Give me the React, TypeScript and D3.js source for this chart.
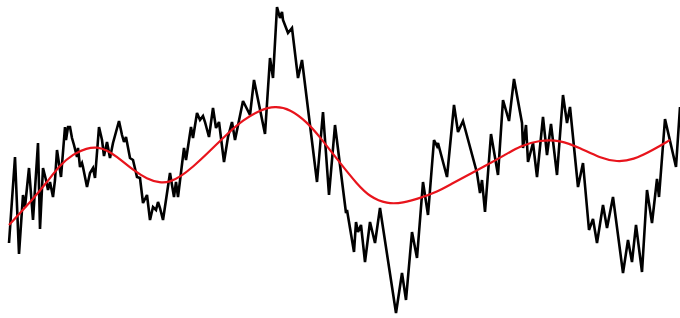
import React from "react";
import * as d3 from "d3";

const WIDTH = 680;
const HEIGHT = 318;

// noisy series: time and level
const noisyTime = [
  9, 15, 19, 23, 25, 29, 33, 38, 40, 43,
  46, 48, 50, 53, 55, 57, 61, 65, 66, 68,
  70, 72, 74, 77, 78, 80, 82, 83, 87, 90,
  93, 95, 99, 102, 104, 107, 110, 113, 119, 122,
  124, 126, 130, 133, 137, 140, 143, 147, 150, 153,
  156, 158, 160, 163, 170, 174, 176, 178, 184, 186,
  191, 193, 197, 200, 203, 205, 209, 213, 216, 219,
  224, 228, 232, 235, 243, 250, 254, 265, 270, 273,
  277, 280, 282, 283, 288, 292, 298, 302, 317, 323,
  329, 335, 346, 347, 349, 354, 356, 358, 361, 365,
  370, 375, 380, 396, 402, 406, 412, 417, 423, 428,
  434, 437, 438, 447, 454, 458, 463, 477, 480, 482,
  485, 491, 498, 503, 509, 514, 522, 523, 526, 528,
  533, 537, 543, 547, 551, 557, 563, 567, 570, 578,
  583, 589, 593, 597, 603, 607, 613, 623, 628, 632,
  636, 642, 647, 652, 657, 659, 665, 676, 680,
];
const noisyLevel = [
  77, 163, 66, 125, 113, 152, 100, 177, 91, 152,
  140, 130, 138, 123, 140, 170, 143, 193, 180, 193,
  193, 182, 175, 163, 172, 153, 157, 153, 133, 147,
  152, 142, 193, 180, 164, 178, 162, 177, 199, 185,
  178, 183, 162, 160, 143, 142, 117, 125, 100, 113,
  110, 118, 112, 100, 147, 123, 138, 123, 172, 160,
  193, 182, 207, 200, 204, 198, 183, 212, 192, 198,
  158, 183, 198, 180, 219, 205, 240, 186, 262, 242,
  313, 302, 308, 300, 287, 292, 242, 260, 138, 208,
  125, 195, 107, 110, 98, 68, 98, 88, 95, 58,
  98, 77, 112, 7, 47, 20, 88, 62, 138, 105,
  180, 174, 177, 143, 215, 188, 199, 147, 127, 140,
  108, 186, 145, 220, 199, 241, 197, 172, 195, 158,
  177, 143, 203, 165, 196, 145, 225, 197, 213, 133,
  157, 90, 101, 77, 115, 92, 123, 47, 80, 58,
  95, 48, 130, 97, 141, 123, 201, 153, 213,
];

// smooth trend series
const trendTime = [
  9, 20, 33, 47, 60, 73, 87, 97, 107, 120,
  133, 147, 160, 170, 180, 193, 210, 227, 243, 260,
  275, 290, 307, 320, 340, 357, 370, 387, 403, 420,
  437, 453, 470, 487, 505, 520, 540, 560, 580, 600,
  617, 633, 653, 670,
];
const trendLevel = [
  95, 107, 121, 138, 155, 166, 172, 173, 170, 161,
  150, 141, 137, 138, 143, 153, 169, 186, 200, 210,
  214, 211, 198, 183, 157, 136, 123, 116, 117, 122,
  128, 137, 146, 155, 165, 174, 180, 180, 172, 162,
  158, 160, 170, 180,
];

export default function App() {
  const x = d3.scaleLinear().domain([0, WIDTH]).range([0, WIDTH]);
  const y = d3.scaleLinear().domain([0, HEIGHT + 2]).range([HEIGHT + 2, 0]);

  const noisy = noisyTime.map((t, i) => [t, noisyLevel[i]] as [number, number]);
  const trend = trendTime.map((t, i) => [t, trendLevel[i]] as [number, number]);

  const lineLinear = d3
    .line<[number, number]>()
    .x((d) => x(d[0]))
    .y((d) => y(d[1]));
  const lineSmooth = d3
    .line<[number, number]>()
    .x((d) => x(d[0]))
    .y((d) => y(d[1]))
    .curve(d3.curveBasis);

  return (
    <svg
      width={WIDTH}
      height={HEIGHT}
      style={{ position: "absolute", left: 0, top: 0, background: "#fff" }}
    >
      <path
        d={lineLinear(noisy) || ""}
        fill="none"
        stroke="#000"
        strokeWidth={2.6}
        strokeLinejoin="miter"
        strokeMiterlimit={3}
      />
      <path
        d={lineSmooth(trend) || ""}
        fill="none"
        stroke="#e8141c"
        strokeWidth={2.2}
      />
    </svg>
  );
}
